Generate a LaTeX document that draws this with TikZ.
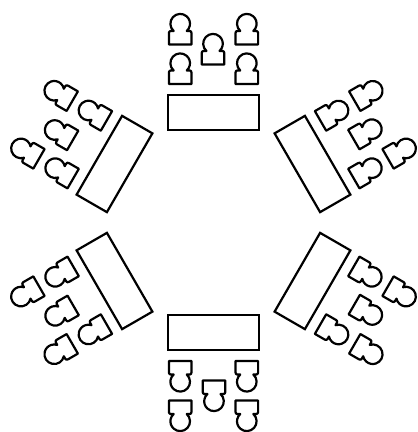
\documentclass[tikz,border=0pt]{standalone}
\tikzset{
  figure/.style={draw=black,line width=2.2pt,fill=white,line join=round},
  person/.pic={
    \draw[figure] (-11.3,0) -- (-11.3,11.5) .. controls (-11.3,12.8) and (-10.5,13.5) .. (-9.5,13.5) -- (-6.56,13.52)
      arc[start angle=-132,end angle=-408,radius=9.8]
      -- (9.5,13.5) .. controls (10.5,13.5) and (11.3,12.8) .. (11.3,11.5) -- (11.3,0) -- cycle;
  },
  seatgroup/.pic={
    \draw[figure,line join=miter] (-45.5,-17.5) rectangle (45.5,17.5);
    \pic[transform shape] at (-33.3,28.5) {person};
    \pic[transform shape] at (33.3,28.5) {person};
    \pic[transform shape] at (-0.5,48) {person};
    \pic[transform shape] at (-33.3,68) {person};
    \pic[transform shape] at (33.3,68) {person};
  }
}
\begin{document}
\begin{tikzpicture}[x=1pt,y=1pt]
\useasboundingbox (0,0) rectangle (418,432);
\pic[rotate=0]   at (213.5,319.5) {seatgroup};
\pic[rotate=180] at (213.5,99.5)  {seatgroup};
\pic[rotate=60]  at (114.5,268)   {seatgroup};
\pic[rotate=-60] at (312.5,268)   {seatgroup};
\pic[rotate=120] at (114.5,151)   {seatgroup};
\pic[rotate=-120] at (312.5,151)  {seatgroup};
\end{tikzpicture}
\end{document}
